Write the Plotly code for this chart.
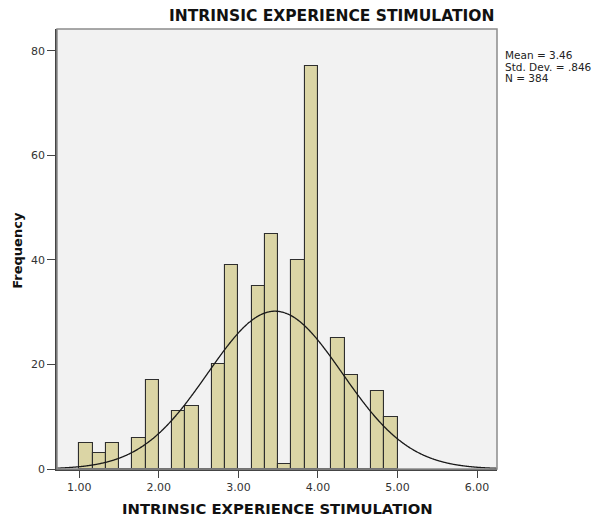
import numpy as np
import plotly.graph_objects as go

# Histogram of the composite score: bins of width 1/6 starting at 1.00
bin_width = 1 / 6
bin_starts = [1.0 + i * bin_width for i in range(24)]
counts = [5, 3, 5, 0, 6, 17, 0, 11, 12, 0, 20, 39,
          0, 35, 45, 1, 40, 77, 0, 25, 18, 0, 15, 10]

mean_val = 3.46
sd_val = 0.846
n_obs = 384

x_ticks = [1, 2, 3, 4, 5, 6]
x_tick_labels = ["1.00", "2.00", "3.00", "4.00", "5.00", "6.00"]
y_ticks = [0, 20, 40, 60, 80]

x_range = [0.72, 6.25]
y_range = [0, 84.15]

FONT = "DejaVu Sans"

centers = [s + bin_width / 2 for s in bin_starts]

# Normal curve scaled to counts per bin
xc = np.linspace(x_range[0], x_range[1], 500)
yc = n_obs * bin_width / (sd_val * np.sqrt(2 * np.pi)) * np.exp(-0.5 * ((xc - mean_val) / sd_val) ** 2)

fig = go.Figure()
fig.add_trace(go.Bar(
    x=centers, y=counts, width=bin_width,
    marker=dict(color="#dbd5a5", line=dict(color="#2e2e2e", width=1.1)),
    hoverinfo="x+y", showlegend=False,
))
fig.add_trace(go.Scatter(
    x=xc, y=yc, mode="lines",
    line=dict(color="#1a1a1a", width=1.3, shape="spline"),
    hoverinfo="skip", showlegend=False,
))

fig.update_layout(
    width=598, height=523,
    margin=dict(l=57, r=101, t=29, b=54),
    paper_bgcolor="white",
    plot_bgcolor="#f2f2f2",
    bargap=0,
    font=dict(family=FONT, size=11, color="#333333"),
    xaxis=dict(
        range=x_range, tickvals=x_ticks, ticktext=x_tick_labels,
        automargin=False,
        showgrid=False, zeroline=False,
        showline=True, linecolor="#444444", linewidth=1.5,
        ticks="outside", ticklen=7, tickcolor="#444444", tickwidth=1.2,
        tickfont=dict(family=FONT, size=11, color="#333333"),
    ),
    yaxis=dict(
        range=y_range, tickvals=y_ticks,
        automargin=False,
        showgrid=False, zeroline=False,
        showline=True, linecolor="#444444", linewidth=1.5,
        ticks="outside", ticklen=8, tickcolor="#444444", tickwidth=1.2,
        ticklabelstandoff=0,
        tickfont=dict(family=FONT, size=11, color="#333333"),
    ),
    shapes=[dict(type="rect", xref="paper", yref="paper", x0=0, y0=0, x1=1, y1=1,
                 line=dict(color="#8c8c8c", width=1.5), layer="above")],
)

# Chart title
fig.add_annotation(
    text="<b>INTRINSIC EXPERIENCE STIMULATION</b>",
    xref="paper", yref="paper", x=0.623, y=1.029,
    xanchor="center", yanchor="middle", showarrow=False,
    font=dict(family=FONT, size=15.5, color="#111111"),
)
# X axis title
fig.add_annotation(
    text="<b>INTRINSIC EXPERIENCE STIMULATION</b>",
    xref="paper", yref="paper", x=0.5, y=-0.089,
    xanchor="center", yanchor="middle", showarrow=False,
    font=dict(family=FONT, size=14.8, color="#111111"),
)
# Y axis title
fig.add_annotation(
    text="<b>Frequency</b>",
    xref="paper", yref="paper", x=-0.089, y=0.498,
    xanchor="center", yanchor="middle", showarrow=False, textangle=-90,
    font=dict(family=FONT, size=13, color="#111111"),
)

stats_lines = [f"Mean = {mean_val:.2f}", "Std. Dev. = .846", f"N = {n_obs}"]
for i, line in enumerate(stats_lines):
    fig.add_annotation(
        text=line, xref="paper", yref="paper",
        x=1.0136, y=0.941 - i * 0.0265,
        xanchor="left", yanchor="middle", showarrow=False,
        font=dict(family=FONT, size=10.5, color="#222222"),
    )

fig.write_html("out.html")
